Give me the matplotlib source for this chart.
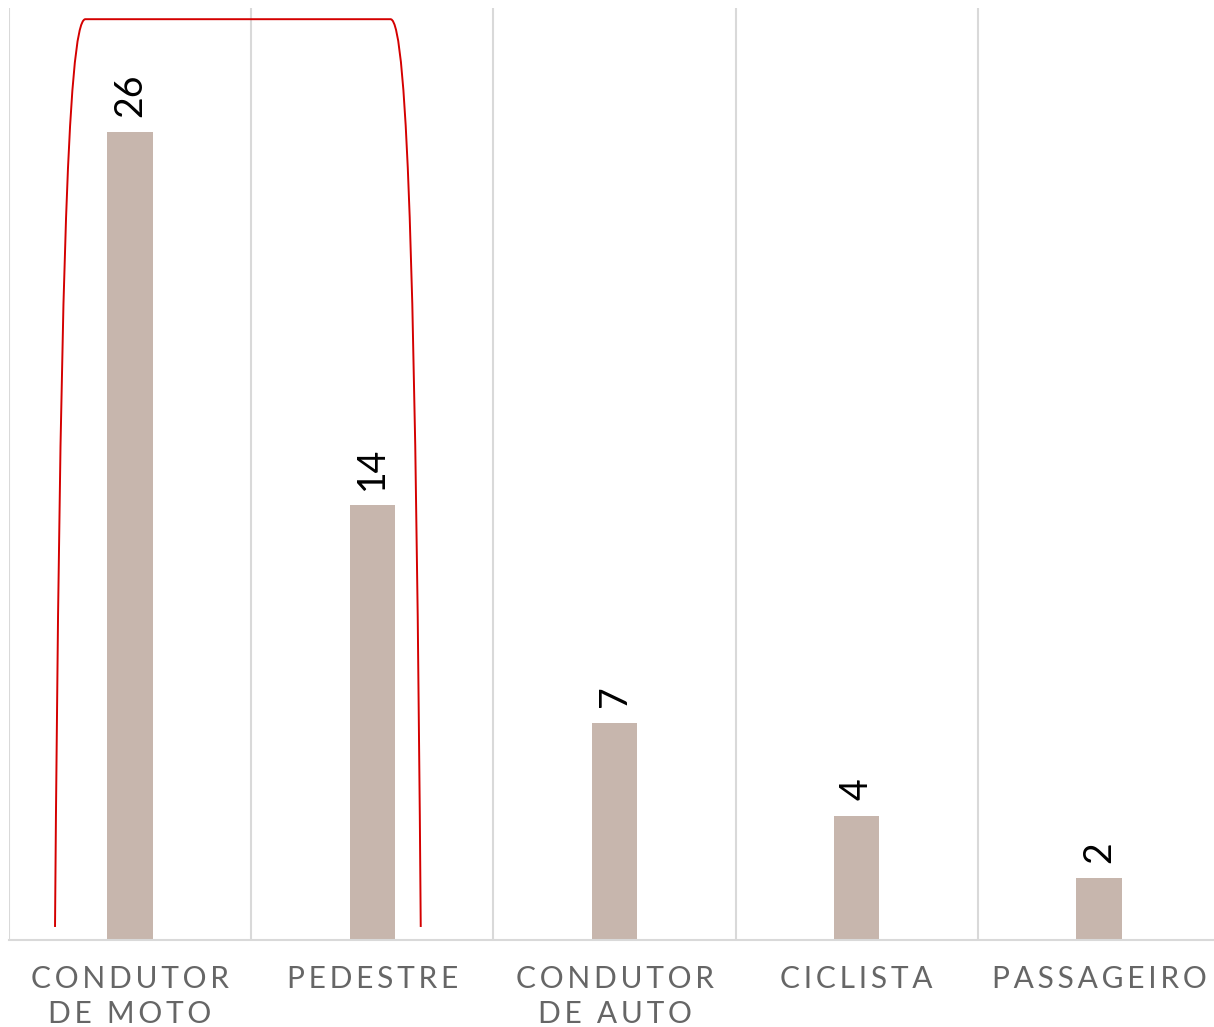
import matplotlib
matplotlib.use("Agg")
import matplotlib.pyplot as plt
from matplotlib.path import Path
from matplotlib.patches import PathPatch

# data
categories = ["CONDUTOR\nDE MOTO", "PEDESTRE", "CONDUTOR\nDE AUTO", "CICLISTA", "PASSAGEIRO"]
values = [26, 14, 7, 4, 2]

# red bracket around the first two bars (x in category units, y in data units)
bracket_x = [-0.31, -0.29, -0.26, -0.185, 1.075, 1.15, 1.18, 1.20]
bracket_y = [0.42, 20.0, 29.6, 29.64, 29.64, 29.6, 20.0, 0.42]

bar_color = "#c7b6ad"
grid_color = "#d9d9d9"
label_color = "#666666"

plt.rcParams['font.family'] = ['Lato', 'DejaVu Sans']


def spaced(s):
    # fake letter spacing with thin spaces
    return "\n".join("\u2009".join(line) for line in s.split("\n"))


fig = plt.figure(figsize=(12.14, 10.27), dpi=100)
ax = fig.add_axes([9 / 1214, 0.0847, 1211 / 1214, 0.9075])

xs = list(range(len(values)))
ax.bar(xs, values, width=0.187, color=bar_color, zorder=2)

for x, v in zip(xs, values):
    ax.annotate(str(v), (x, v), xytext=(0, 11), textcoords="offset points",
                rotation=90, ha="center", va="bottom", fontsize=27,
                color="black")

# vertical separators
for b in range(len(values) + 1):
    ax.axvline(b - 0.5, color=grid_color, lw=1.5, zorder=0)

verts = [(bracket_x[0], bracket_y[0]),
         (bracket_x[1], bracket_y[1]), (bracket_x[2], bracket_y[2]), (bracket_x[3], bracket_y[3]),
         (bracket_x[4], bracket_y[4]),
         (bracket_x[5], bracket_y[4]), (bracket_x[6], bracket_y[6]), (bracket_x[7], bracket_y[7])]
codes = [Path.MOVETO, Path.CURVE4, Path.CURVE4, Path.CURVE4,
         Path.LINETO, Path.CURVE4, Path.CURVE4, Path.CURVE4]
ax.add_patch(PathPatch(Path(verts, codes), fill=False, edgecolor="#d40000", lw=1.4, zorder=3))

ax.set_xlim(-0.5, 4.5)
ax.set_ylim(0, 30)
ax.set_yticks([])
ax.set_xticks(xs)
ax.set_xticklabels([spaced(c) for c in categories], fontsize=21.5, color=label_color,
                   linespacing=1.3)
ax.tick_params(axis="x", length=0, pad=18)
for s in ["top", "left", "right"]:
    ax.spines[s].set_visible(False)
ax.spines["bottom"].set_color(grid_color)
ax.spines["bottom"].set_linewidth(1.5)

fig.savefig("out.png", dpi=100)
